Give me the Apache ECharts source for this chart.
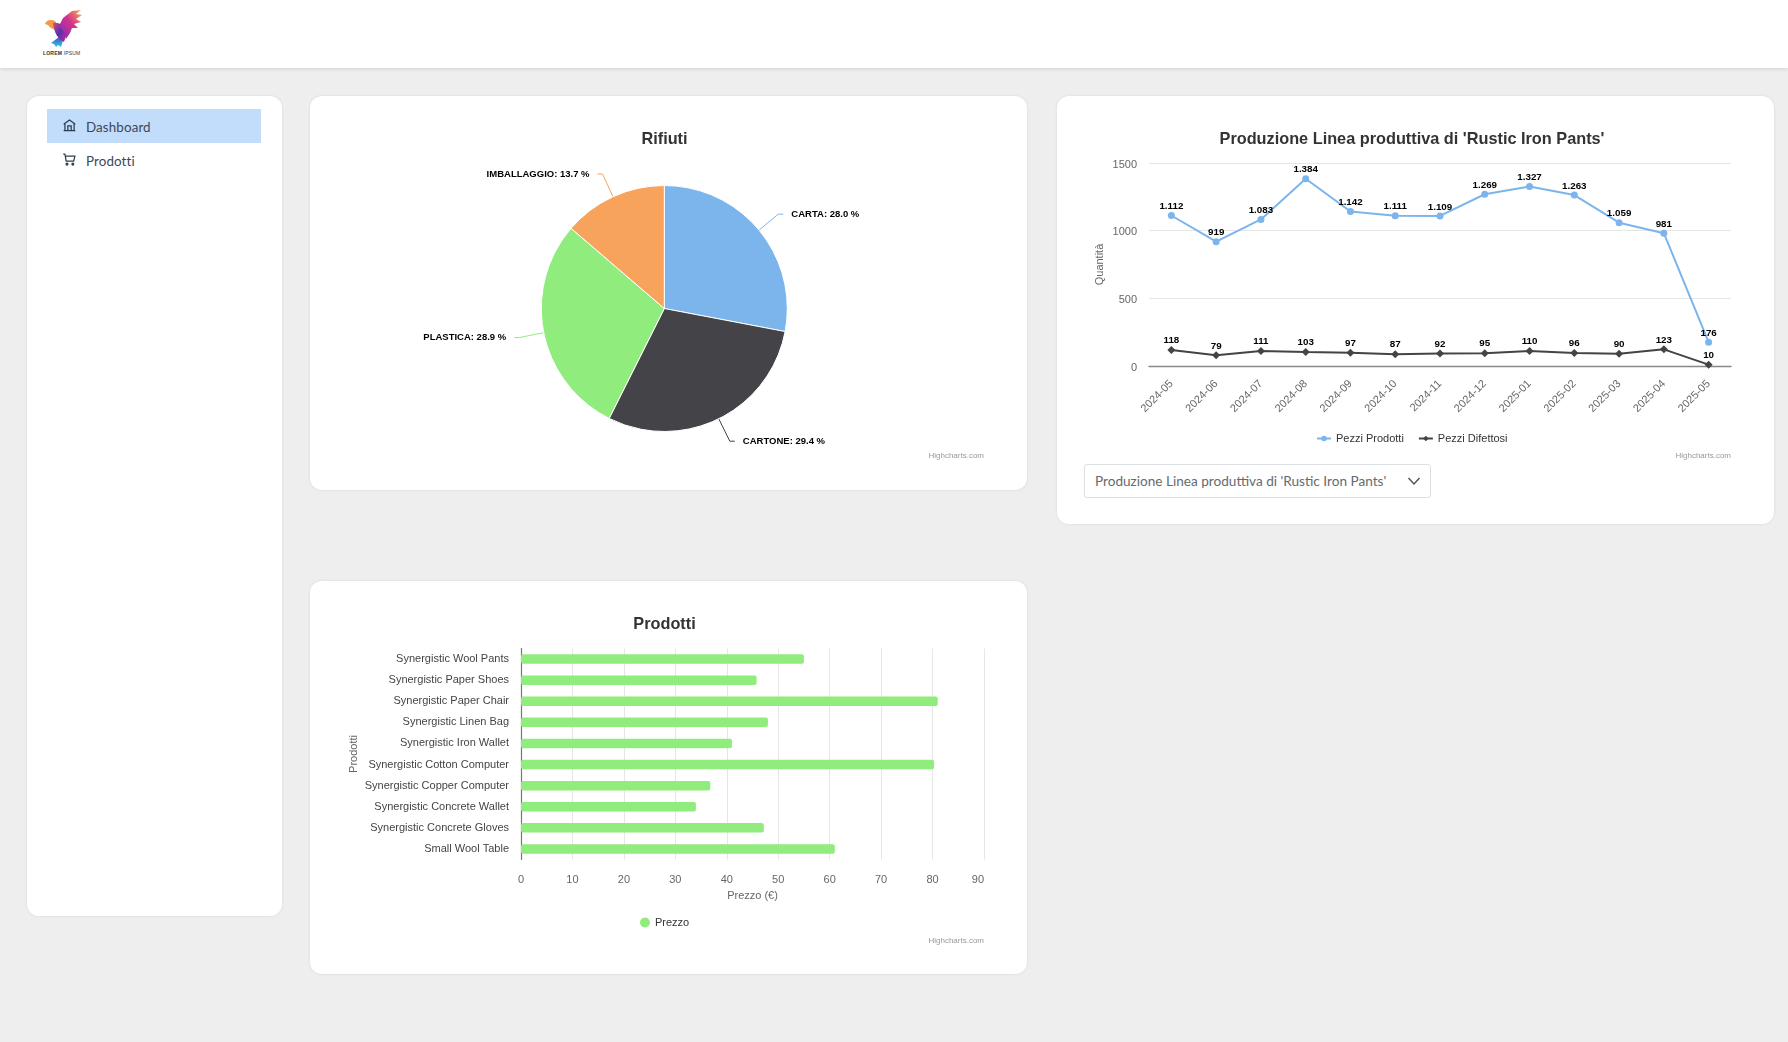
<!DOCTYPE html>
<html lang="it">
<head>
<meta charset="utf-8">
<title>Dashboard</title>
<script src="https://cdn.jsdelivr.net/npm/echarts@6/dist/echarts.min.js"></script>
<style>
html,body{margin:0;padding:0;width:1788px;height:1042px;overflow:hidden;background:#eeeeee;font-family:"Lato","Noto Sans",sans-serif;}
.header{position:absolute;left:0;top:0;width:1788px;height:68px;background:#fff;box-shadow:0 1px 4px rgba(0,0,0,.12);}
.card{position:absolute;background:#fff;border-radius:12px;box-shadow:0 0 3px rgba(0,0,0,.09);}
.chart{position:absolute;left:-1px;top:-1px;width:718px;height:394px;}
.menu{position:absolute;left:47px;width:214px;height:34px;box-sizing:border-box;color:#3c4858;font-size:13.4px;line-height:36px;padding-left:39px;letter-spacing:.1px;}
.menu.active{background:#c2dcfb;}
.menu svg{position:absolute;left:15px;top:9px;}
.select{position:absolute;left:1084px;top:464px;width:347px;height:34px;box-sizing:border-box;background:#fff;border:1px solid #dcdfe3;border-radius:3px;color:#666a6e;font-size:13.6px;line-height:32px;padding-left:10px;white-space:nowrap;}
.select svg{position:absolute;right:9px;top:9px;}
.logoText{position:absolute;left:43px;top:50px;font:5px "Liberation Sans",sans-serif;color:#333;letter-spacing:.2px;white-space:nowrap;}
</style>
</head>
<body>
<div class="header">
  <svg style="position:absolute;left:40px;top:6px" width="46" height="44" viewBox="0 0 46 44">
    <defs>
      <linearGradient id="g1" x1="0" y1="0" x2="1" y2="1"><stop offset="0" stop-color="#d84a7a"/><stop offset=".5" stop-color="#5a2fb0"/><stop offset="1" stop-color="#c2269a"/></linearGradient>
      <linearGradient id="g2" x1="0" y1="1" x2="1" y2="0"><stop offset="0" stop-color="#7a2cb8"/><stop offset=".55" stop-color="#d5328e"/><stop offset="1" stop-color="#f9b24a"/></linearGradient>
      <linearGradient id="g3" x1="0" y1="0" x2="0" y2="1"><stop offset="0" stop-color="#3a55c8"/><stop offset="1" stop-color="#35c6e0"/></linearGradient>
    </defs>
    <polygon points="19,31 23,34 21,41 18,39 16,41 14,38 11,37" fill="url(#g3)"/>
    <path d="M5,18 C6,14 11,13 15,15 C17,17 17,22 16,24 C12,23 9,21 8,19 Z" fill="#f39a45"/>
    <path d="M13,17 C17,16 21,18 24,20 L26,30 L24,36 C18,33 14,27 13,17Z" fill="url(#g1)"/>
    <path d="M19,20 L23,12 L32,5 L41,4 L36,8 L42,9 L36,13 L41,16 L34,18 L38,22 L32,22 L30,27 L26,33 L24,26 Z" fill="url(#g2)"/>
  </svg>
  <div class="logoText"><b>LOREM</b> IPSUM</div>
</div>

<div class="card" style="left:27px;top:96px;width:255px;height:820px"></div>
<div class="menu active" style="top:108.5px">
  <svg width="15" height="15" viewBox="0 0 18 18" fill="none" stroke="#2c3e50" stroke-width="1.5"><path d="M2,7.5 L9,2.5 L16,7.5 M3.5,7 V15 H14.5 V7 M7,15 V9.5 H11 V15 M2,15 H16"/></svg>
  Dashboard
</div>
<div class="menu" style="top:142.5px">
  <svg width="15" height="15" viewBox="0 0 18 18" fill="none" stroke="#2c3e50" stroke-width="1.5"><path d="M1.5,2.5 H3.5 L5,11 H14 L15.5,5 H4"/><circle cx="6" cy="14.5" r="1.1" fill="#2c3e50"/><circle cx="13" cy="14.5" r="1.1" fill="#2c3e50"/></svg>
  Prodotti
</div>

<div class="card" style="left:310px;top:96px;width:717px;height:394px"><div class="chart" id="pieChart"></div></div>
<div class="card" style="left:1057px;top:96px;width:717px;height:428px"><div class="chart" id="lineChart"></div></div>
<div class="card" style="left:310px;top:581px;width:717px;height:393px"><div class="chart" id="barChart"></div></div>
<div class="select">Produzione Linea produttiva di 'Rustic Iron Pants'
  <svg width="14" height="14" viewBox="0 0 14 14" fill="none" stroke="#555" stroke-width="1.5"><path d="M1.5,4 L7,10 L12.5,4"/></svg>
</div>

<script>
var FONT = '"Liberation Sans", Arial, sans-serif';
var pieTitle = 'Rifiuti';
var wasteNames = ['CARTA', 'CARTONE', 'PLASTICA', 'IMBALLAGGIO'];
var wasteValues = [28.0, 29.4, 28.9, 13.7];
var wasteColors = ['#7cb5ec', '#434348', '#90ed7d', '#f7a35c'];

var lineTitle = "Produzione Linea produttiva di 'Rustic Iron Pants'";
var months = ['2024-05','2024-06','2024-07','2024-08','2024-09','2024-10','2024-11','2024-12','2025-01','2025-02','2025-03','2025-04','2025-05'];
var producedPieces = [1112, 919, 1083, 1384, 1142, 1111, 1109, 1269, 1327, 1263, 1059, 981, 176];
var defectivePieces = [118, 79, 111, 103, 97, 87, 92, 95, 110, 96, 90, 123, 10];

var barTitle = 'Prodotti';
var products = ['Synergistic Wool Pants','Synergistic Paper Shoes','Synergistic Paper Chair','Synergistic Linen Bag','Synergistic Iron Wallet','Synergistic Cotton Computer','Synergistic Copper Computer','Synergistic Concrete Wallet','Synergistic Concrete Gloves','Small Wool Table'];
var prices = [55, 45.8, 81, 48, 41, 80.3, 36.8, 34, 47.2, 61];

function thousands(v){ return String(v).replace(/\B(?=(\d{3})+$)/g, '.'); }
function titleItem(text, x, top){
  return {text:text, left:x, top:top, padding:0, textAlign:'center', textStyle:{fontFamily:FONT, fontWeight:'bold', fontSize:16.3, color:'#333333'}};
}
function credit(right, top){
  return {text:'Highcharts.com', right:right, top:top, padding:0, textStyle:{fontFamily:FONT, fontWeight:'normal', fontSize:8, color:'#999999'}};
}
document.getElementById('lineChart').style.height = '428px';

echarts.init(document.getElementById('pieChart')).setOption({
  animation:false,
  title:[titleItem(pieTitle, 355.5, 37), credit(43, 357)],
  series:[{
    type:'pie', center:[355.3,213.5], radius:[0,123], startAngle:90, clockwise:true,
    avoidLabelOverlap:false,
    itemStyle:{borderColor:'#fff', borderWidth:1},
    label:{show:true, position:'outside', formatter:function(p){return p.name + ': ' + p.value.toFixed(1) + ' %';}, fontFamily:FONT, fontWeight:'bold', fontSize:9.5, color:'#000', distanceToLabelLine:8},
    labelLine:{show:true, length:25, length2:5, smooth:false, lineStyle:{width:1}},
    data:wasteNames.map(function(n,i){return {name:n, value:wasteValues[i], itemStyle:{color:wasteColors[i]}};})
  }]
});

var lineLabel = {show:true, position:'top', distance:0.5, fontFamily:FONT, fontWeight:'bold', fontSize:9.8, color:'#000',
  formatter:function(p){return thousands(p.value);}};
echarts.init(document.getElementById('lineChart')).setOption({
  animation:false,
  title:[titleItem(lineTitle, 356, 37), credit(43, 357)],
  legend:{left:260, top:338, padding:0, itemGap:14, itemWidth:14, itemHeight:7, textStyle:{fontFamily:FONT, fontSize:11, color:'#333'}, data:['Pezzi Prodotti','Pezzi Difettosi']},
  grid:{left:93, right:43, top:68, height:203, containLabel:false},
  xAxis:{type:'category', data:months, boundaryGap:true,
    axisLine:{lineStyle:{color:'#888', width:1.4}}, axisTick:{show:false},
    axisLabel:{rotate:45, fontFamily:FONT, fontSize:11, color:'#666', margin:16, interval:0}},
  yAxis:{type:'value', min:0, max:1500, interval:500, name:'Quantità', nameLocation:'middle', nameGap:44, nameMoveOverlap:false,
    nameTextStyle:{fontFamily:FONT, fontSize:11, color:'#666'},
    axisLine:{show:false}, axisTick:{show:false},
    splitLine:{lineStyle:{color:'#e6e6e6'}},
    axisLabel:{fontFamily:FONT, fontSize:11, color:'#666', margin:12, formatter:function(v){return '{v|' + v + '}';},
      rich:{v:{fontFamily:FONT, fontSize:11, color:'#666', padding:[3,0,0,0]}}}},
  series:[
    {name:'Pezzi Prodotti', type:'line', data:producedPieces, symbol:'circle', symbolSize:7, color:'#7cb5ec', lineStyle:{width:2, color:'#7cb5ec'}, itemStyle:{color:'#7cb5ec'}, label:lineLabel},
    {name:'Pezzi Difettosi', type:'line', data:defectivePieces, symbol:'diamond', symbolSize:8, color:'#434348', lineStyle:{width:2, color:'#434348'}, itemStyle:{color:'#434348'}, label:lineLabel}
  ]
});

echarts.init(document.getElementById('barChart')).setOption({
  animation:false,
  title:[titleItem(barTitle, 355.5, 37), credit(43, 357)],
  legend:{left:331, top:337, padding:0, itemGap:6, itemWidth:10, itemHeight:10, icon:'circle', textStyle:{fontFamily:FONT, fontSize:11, color:'#333'}, data:['Prezzo']},
  grid:{left:212, right:43, top:68.5, height:211, containLabel:false},
  xAxis:{type:'value', min:0, max:90, interval:10, name:'Prezzo (€)', nameLocation:'middle', nameGap:31,
    nameTextStyle:{fontFamily:FONT, fontSize:11, color:'#666'},
    axisLine:{show:false}, axisTick:{show:false},
    splitLine:{lineStyle:{color:'#e6e6e6'}},
    axisLabel:{fontFamily:FONT, fontSize:11, color:'#666', margin:15, alignMaxLabel:'right'}},
  yAxis:{type:'category', data:products, inverse:true, name:'Prodotti', nameLocation:'middle', nameGap:162, nameMoveOverlap:false,
    nameTextStyle:{fontFamily:FONT, fontSize:11, color:'#666'},
    axisLine:{lineStyle:{color:'#777', width:1.2}}, axisTick:{show:false},
    axisLabel:{fontFamily:FONT, fontSize:11, color:'#444', margin:12, interval:0}},
  series:[{name:'Prezzo', type:'bar', data:prices, barWidth:9.5, color:'#90ed7d', itemStyle:{color:'#90ed7d', borderRadius:2}}]
});
</script>
</body>
</html>
